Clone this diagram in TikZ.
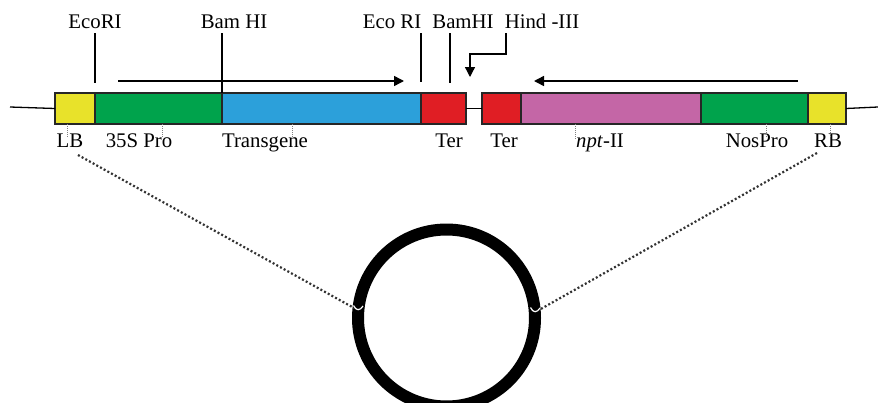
\documentclass[tikz,border=0pt]{standalone}
\usepackage{fontspec}
\setmainfont{Liberation Serif}
\usetikzlibrary{arrows.meta}
\definecolor{cyel}{RGB}{232,226,42}
\definecolor{cgrn}{RGB}{0,163,76}
\definecolor{cblu}{RGB}{44,160,218}
\definecolor{cred}{RGB}{224,30,36}
\definecolor{cpnk}{RGB}{196,102,166}
\begin{document}
\begin{tikzpicture}[x=1pt,y=-1pt,
  seg/.style={draw=black!85,line width=1.3pt,minimum height=31pt,inner sep=0pt,outer sep=0pt},
  lbl/.style={font=\fontsize{20.8}{24}\selectfont,inner sep=0pt,anchor=base},
  site/.style={line width=1.3pt},
  dirarrow/.style={line width=1.5pt,-{Triangle[length=10pt,width=10pt]}},
  tick/.style={gray,line width=0.7pt,dash pattern=on 1pt off 1pt},
  dots/.style={black!80,line width=2.2pt,dash pattern=on 2pt off 2.2pt},
  notch/.style={white,line width=1.2pt}]
\useasboundingbox (0,0) rectangle (878,402);
% backbone segments
\node[seg,fill=cyel,minimum width=40pt] (lb) at (75,108.5) {};
\node[seg,fill=cgrn,minimum width=127pt] (pro35) at (158.5,108.5) {};
\node[seg,fill=cblu,minimum width=199pt] (tg) at (321.5,108.5) {};
\node[seg,fill=cred,minimum width=45pt] (ter1) at (443.5,108.5) {};
\node[seg,fill=cred,minimum width=39pt] (ter2) at (501.5,108.5) {};
\node[seg,fill=cpnk,minimum width=180pt] (npt) at (611,108.5) {};
\node[seg,fill=cgrn,minimum width=107pt] (nos) at (754.5,108.5) {};
\node[seg,fill=cyel,minimum width=38pt] (rb) at (827,108.5) {};
\coordinate (lend) at (10,107);
\coordinate (rend) at (878,107);
\draw[line width=1.3pt] (lend) -- (lb.west);
\draw[line width=1.3pt] (ter1.east) -- (ter2.west);
\draw[line width=1.3pt] (rb.east) -- (rend);
% top labels
\node[lbl] (eco1) at (95,28) {EcoRI};
\node[lbl] (bam1) at (234,28) {Bam HI};
\node[lbl] (eco2) at (392,28) {Eco RI};
\node[lbl] (bam2) at (463,28) {BamHI};
\node[lbl] (hind) at (542,28) {Hind -III};
% site lines
\coordinate (s1a) at (95,33); \coordinate (s1b) at (95,83);
\coordinate (s2a) at (222,33); \coordinate (s2b) at (222,93);
\coordinate (s3a) at (421,33); \coordinate (s3b) at (421,82);
\coordinate (s4a) at (450,33); \coordinate (s4b) at (450,83);
\draw[site] (s1a) -- (s1b);
\draw[site] (s2a) -- (s2b);
\draw[site] (s3a) -- (s3b);
\draw[site] (s4a) -- (s4b);
\coordinate (h1) at (506,33); \coordinate (h2) at (470,77);
\draw[site,-{Triangle[length=10pt,width=10pt]}] (h1) |- (488,54) -| (h2);
% direction arrows
\coordinate (ra) at (118,81); \coordinate (rb2) at (404,81);
\coordinate (la) at (798,81); \coordinate (lb2) at (534,81);
\draw[dirarrow] (ra) -- (rb2);
\draw[dirarrow] (la) -- (lb2);
% bottom labels
\node[lbl] (tlb) at (70,147) {LB};
\node[lbl] (t35) at (139,147) {35S Pro};
\node[lbl] (ttg) at (265,147) {Transgene};
\node[lbl] (tter1) at (449,147) {Ter};
\node[lbl] (tter2) at (504,147) {Ter};
\node[lbl] (tnpt) at (600,147) {\textit{npt}-II};
\node[lbl] (tnos) at (757,147) {NosPro};
\node[lbl] (trb) at (828,147) {RB};
% ticks
\draw[tick] (67,124) -- (67,138);
\draw[tick] (162,124) -- (162,138);
\draw[tick] (292,124) -- (292,138);
\draw[tick] (575,124) -- (575,140);
\draw[tick] (766,124) -- (766,138);
\draw[tick] (830,124) -- (830,138);
% plasmid
\node[circle,draw,line width=12pt,minimum size=177pt,inner sep=0pt] (plasmid) at (446.5,318) {};
\coordinate (cl) at (354,308);
\coordinate (cr) at (539,310);
\coordinate (dl) at (78,155);
\coordinate (dr) at (817,153);
\draw[dots] (dl) -- (cl);
\draw[dots] (dr) -- (cr);
\draw[notch] (353.5,305.5) .. controls (356,311) and (360,311) .. (363,306);
\draw[notch] (530.5,307.5) .. controls (533,313) and (537,313) .. (540,308);
\end{tikzpicture}
\end{document}
